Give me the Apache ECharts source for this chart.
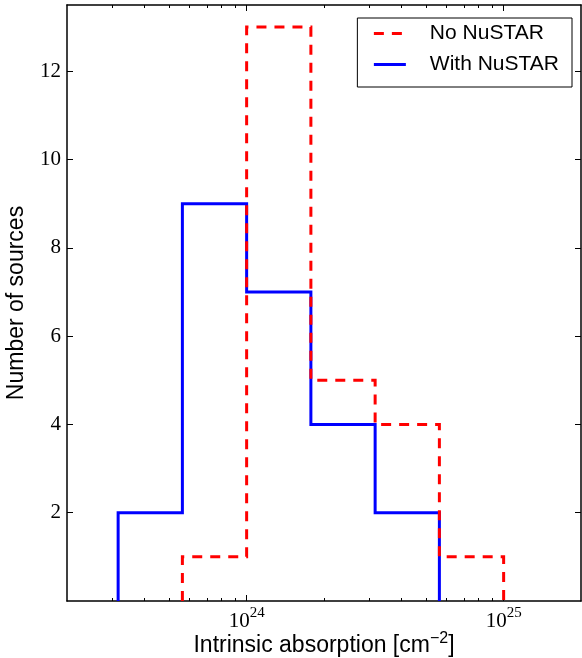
<!DOCTYPE html>
<html><head><meta charset="utf-8">
<script src="https://cdn.jsdelivr.net/npm/echarts@6/dist/echarts.min.js"></script>
<style>html,body{margin:0;padding:0;background:#fff}#c{width:582px;height:658px}</style>
</head><body><div id="c"></div>
<script>
// ---- data ----
const binEdgesExp = [23.5, 23.75, 24.0, 24.25, 24.5, 24.75, 25.0];
const noNuSTARCounts = [0, 1, 13, 5, 4, 1];
const withNuSTARCounts = [2, 9, 7, 4, 2, 0];
const seriesNames = ['No NuSTAR', 'With NuSTAR'];
const yTickValues = [2, 4, 6, 8, 10, 12];
const xMajorTicks = [1e24, 1e25];
const xMinorTicks = [3e23, 4e23, 5e23, 6e23, 7e23, 8e23, 9e23, 2e24, 3e24, 4e24, 5e24, 6e24, 7e24, 8e24, 9e24];
const xRange = [2e23, 2e25];
const yRange = [0, 13.5];

function outline(counts) {
  const a = counts.findIndex(c => c > 0);
  let b = counts.length - 1;
  while (b > 0 && counts[b] === 0) b--;
  const pts = [[Math.pow(10, binEdgesExp[a]), 0]];
  for (let i = a; i <= b; i++) {
    pts.push([Math.pow(10, binEdgesExp[i]), counts[i]]);
    pts.push([Math.pow(10, binEdgesExp[i + 1]), counts[i]]);
  }
  pts.push([Math.pow(10, binEdgesExp[b + 1]), 0]);
  return pts;
}

const serif = "'Liberation Serif', 'DejaVu Serif', serif";
const sans = "'Liberation Sans', Arial, sans-serif";
const axisLineStyle = { color: '#000', width: 1.5 };

function xAxisDef(position, ticks, len, showLine, showLabel) {
  return {
    type: 'log', logBase: 10, min: xRange[0], max: xRange[1], position: position,
    axisLine: { show: showLine, onZero: false, lineStyle: axisLineStyle },
    axisTick: { show: true, inside: true, length: len, customValues: ticks, lineStyle: { color: '#000', width: 1 } },
    axisLabel: showLabel ? {
      show: true, customValues: ticks, margin: 5,
      formatter: v => '{b|10}{s|' + Math.round(Math.log10(v)) + '}',
      rich: {
        b: { fontFamily: serif, fontSize: 21, color: '#000', lineHeight: 26, verticalAlign: 'bottom' },
        s: { fontFamily: serif, fontSize: 15, color: '#000', lineHeight: 15, verticalAlign: 'top' }
      }
    } : { show: false },
    splitLine: { show: false }, minorTick: { show: false }
  };
}

const xAxes = [
  Object.assign(xAxisDef('bottom', xMajorTicks, 6, true, true), {
    name: '{n|Intrinsic absorption [cm}{sup|\u22122}{n|]}', nameLocation: 'middle', nameGap: 30,
    nameMoveOverlap: false,
    nameTextStyle: {
      rich: {
        n: { fontFamily: sans, fontSize: 23, color: '#000', lineHeight: 26, verticalAlign: 'bottom' },
        sup: { fontFamily: sans, fontSize: 16, color: '#000', lineHeight: 15, verticalAlign: 'top' }
      }
    }
  }),
  xAxisDef('bottom', xMinorTicks, 3, false, false),
  xAxisDef('top', xMajorTicks, 6, true, false),
  xAxisDef('top', xMinorTicks, 3, false, false)
];

const yAxes = [
  {
    type: 'value', min: yRange[0], max: yRange[1], position: 'left',
    name: 'Number of sources', nameLocation: 'middle', nameGap: 39,
    nameMoveOverlap: false,
    nameTextStyle: { fontFamily: sans, fontSize: 23, color: '#000' },
    axisLine: { show: true, lineStyle: axisLineStyle },
    axisTick: { show: true, inside: true, length: 6, customValues: yTickValues, lineStyle: { color: '#000', width: 1 } },
    axisLabel: { show: true, customValues: yTickValues, margin: 6, fontFamily: serif, fontSize: 21, color: '#000' },
    splitLine: { show: false }
  },
  {
    type: 'value', min: yRange[0], max: yRange[1], position: 'right',
    axisLine: { show: true, lineStyle: axisLineStyle },
    axisTick: { show: true, inside: true, length: 6, customValues: yTickValues, lineStyle: { color: '#000', width: 1 } },
    axisLabel: { show: false },
    splitLine: { show: false }
  }
];

const chart = echarts.init(document.getElementById('c'), null, { renderer: 'canvas' });
chart.setOption({
  animation: false,
  backgroundColor: '#fff',
  grid: { left: 67, right: 1, top: 5, bottom: 57, containLabel: false, outerBoundsMode: 'none' },
  legend: {
    data: seriesNames, orient: 'vertical', right: 10, top: 18,
    itemWidth: 32, itemHeight: 22, itemGap: 10,
    padding: [5, 13, 12, 15],
    borderColor: '#000', borderWidth: 1, borderRadius: 0, backgroundColor: '#fff',
    itemStyle: { opacity: 0 },
    lineStyle: { width: 3 },
    textStyle: { fontFamily: sans, fontSize: 21, color: '#000', padding: [0, 0, 0, 19] }
  },
  xAxis: xAxes,
  yAxis: yAxes,
  series: [
    {
      name: seriesNames[1], type: 'line', xAxisIndex: 0, yAxisIndex: 0, symbol: 'none', z: 2,
      data: outline(withNuSTARCounts),
      lineStyle: { color: '#0000ff', width: 3, join: 'miter', cap: 'butt' },
      itemStyle: { color: '#0000ff' }
    },
    {
      name: seriesNames[0], type: 'line', xAxisIndex: 0, yAxisIndex: 0, symbol: 'none', z: 3,
      data: outline(noNuSTARCounts),
      lineStyle: { color: '#ff0000', width: 3, type: [10, 8], join: 'miter', cap: 'butt' },
      itemStyle: { color: '#ff0000' }
    }
  ]
});
</script></body></html>
